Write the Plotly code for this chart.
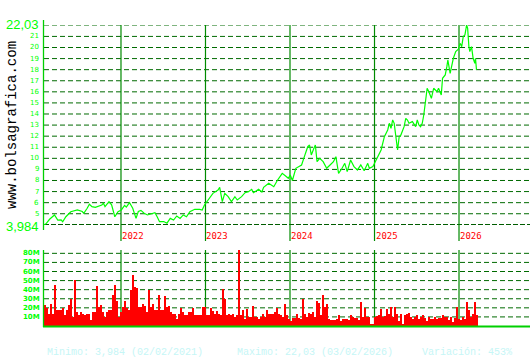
import plotly.graph_objects as go

# ---------------- data ----------------
price_years = [
    2021.090, 2021.117, 2021.155, 2021.213, 2021.252, 2021.291, 2021.310, 2021.348, 2021.406, 2021.484,
    2021.542, 2021.560, 2021.600, 2021.626, 2021.657, 2021.696, 2021.773, 2021.792, 2021.811, 2021.858,
    2021.889, 2021.927, 2021.965, 2022.004, 2022.043, 2022.063, 2022.101, 2022.139, 2022.178, 2022.205,
    2022.236, 2022.274, 2022.313, 2022.370, 2022.402, 2022.428, 2022.456, 2022.506, 2022.544, 2022.583,
    2022.622, 2022.660, 2022.699, 2022.737, 2022.775, 2022.815, 2022.873, 2022.931, 2022.961, 2022.988,
    2023.028, 2023.088, 2023.148, 2023.168, 2023.199, 2023.228, 2023.268, 2023.307, 2023.348, 2023.376,
    2023.427, 2023.468, 2023.508, 2023.547, 2023.568, 2023.628, 2023.667, 2023.688, 2023.748, 2023.808,
    2023.848, 2023.908, 2023.948, 2023.980, 2024.003, 2024.028, 2024.069, 2024.109, 2024.137, 2024.170,
    2024.210, 2024.231, 2024.252, 2024.283, 2024.300, 2024.320, 2024.352, 2024.392, 2024.413, 2024.434,
    2024.474, 2024.514, 2024.543, 2024.575, 2024.616, 2024.648, 2024.677, 2024.717, 2024.757, 2024.798,
    2024.838, 2024.878, 2024.920, 2024.939, 2024.981, 2025.012, 2025.040, 2025.078, 2025.117, 2025.156,
    2025.175, 2025.195, 2025.215, 2025.233, 2025.253, 2025.273, 2025.292, 2025.312, 2025.350, 2025.370,
    2025.390, 2025.408, 2025.448, 2025.487, 2025.506, 2025.525, 2025.545, 2025.565, 2025.583, 2025.603,
    2025.623, 2025.642, 2025.673, 2025.700, 2025.740, 2025.758, 2025.790, 2025.805, 2025.837, 2025.856,
    2025.868, 2025.895, 2025.915, 2025.933, 2025.961, 2025.992, 2026.012, 2026.032, 2026.050, 2026.070,
    2026.090, 2026.102, 2026.117, 2026.128, 2026.148, 2026.160, 2026.167, 2026.187, 2026.195, 2026.207,
]
price_values = [
    3.99, 4.13, 4.50, 4.89, 4.43, 4.45, 4.28, 4.73, 5.18, 5.34,
    5.20, 5.04, 5.49, 5.85, 5.64, 5.58, 5.79, 5.94, 5.65, 6.09,
    5.80, 4.73, 5.18, 5.34, 5.75, 5.60, 6.00, 5.50, 4.58, 5.20,
    5.30, 5.04, 4.89, 5.04, 5.10, 4.73, 4.28, 4.30, 4.15, 4.58,
    4.43, 4.80, 4.58, 4.89, 4.73, 5.18, 5.40, 5.40, 5.34, 5.79,
    6.18, 6.84, 7.14, 7.38, 6.09, 6.84, 6.54, 6.09, 6.54, 6.24,
    6.54, 6.90, 6.99, 7.20, 6.90, 7.20, 6.96, 7.38, 7.75, 7.44,
    7.98, 8.65, 8.41, 8.20, 8.50, 8.00, 9.10, 9.25, 9.40, 10.15,
    11.05, 11.20, 10.30, 10.90, 11.20, 9.70, 10.00, 9.70, 9.40, 9.10,
    9.40, 9.70, 10.15, 8.65, 9.10, 9.55, 8.80, 9.85, 9.25, 8.95,
    9.40, 8.88, 9.55, 9.10, 9.25, 9.70, 10.15, 10.75, 11.95, 12.56,
    13.16, 12.71, 13.46, 13.16, 11.95, 10.75, 11.95, 12.10, 12.86, 13.61,
    13.46, 13.16, 13.31, 12.86, 13.46, 13.01, 12.86, 13.16, 13.91, 15.27,
    16.32, 16.02, 15.42, 16.32, 16.02, 16.32, 15.72, 17.22, 17.52, 18.27,
    18.87, 17.67, 18.58, 19.03, 19.63, 19.84, 20.38, 20.08, 20.98, 21.13,
    22.03, 21.74, 20.08, 19.63, 20.08, 19.48, 19.03, 18.58, 19.03, 17.97,
]

# volume, millions, one value per regular sampling step
vol_start_year = 2021.100
vol_step_years = 0.02367
volume_m = [
    24, 20, 14, 25, 14, 46, 18, 18, 18, 20, 12, 18, 23, 30, 10, 51, 16, 12, 16, 14,
    12, 14, 14, 7, 16, 16, 44, 21, 23, 16, 10, 16, 18, 18, 34, 45, 28, 10, 16, 21,
    28, 20, 18, 40, 57, 43, 42, 21, 21, 25, 22, 16, 40, 21, 25, 18, 18, 34, 18, 18,
    33, 21, 22, 16, 14, 14, 8, 14, 20, 16, 12, 12, 16, 16, 20, 12, 12, 12, 12, 21,
    21, 12, 12, 20, 17, 14, 17, 14, 12, 41, 30, 12, 14, 12, 14, 10, 12, 84, 12, 18,
    8, 19, 10, 10, 22, 10, 10, 8, 10, 13, 10, 18, 14, 13, 13, 16, 20, 13, 12, 10,
    25, 12, 8, 6, 9, 9, 14, 9, 8, 30, 14, 10, 15, 13, 16, 10, 28, 26, 12, 34,
    21, 25, 8, 7, 7, 7, 8, 12, 6, 8, 8, 8, 7, 12, 10, 9, 9, 7, 27, 10,
    20, 10, 10, 3, 3, 10, 11, 12, 19, 10, 11, 19, 14, 21, 10, 21, 14, 6, 14, 3,
    12, 14, 15, 10, 8, 10, 12, 8, 10, 12, 9, 6, 10, 8, 8, 10, 8, 9, 9, 12,
    10, 10, 7, 10, 5, 9, 21, 8, 7, 10, 8, 27, 18, 10, 14, 27, 12,
]
vol_years = [vol_start_year + i * vol_step_years for i in range(len(volume_m))]

year_ticks = [2022, 2023, 2024, 2025, 2026]
year_labels = ["2022", "2023", "2024", "2025", "2026"]

price_ticks = [3.984, 5, 6, 7, 8, 9, 10, 11, 12, 13, 14, 15, 16, 17, 18, 19, 20, 21, 22.03]
price_tick_labels = ["3,984", "5", "6", "7", "8", "9", "10", "11", "12", "13", "14",
                     "15", "16", "17", "18", "19", "20", "21", "22,03"]

vol_ticks = [10, 20, 30, 40, 50, 60, 70, 80]
vol_tick_labels = ["10M", "20M", "30M", "40M", "50M", "60M", "70M", "80M"]

footer_texts = ["Minimo: 3,984 (02/02/2021)", "Maximo: 22,03 (03/02/2026)", "Variación: 453%"]
watermark = "www.bolsagrafica.com"

# ---------------- layout helpers ----------------
W, H = 530, 360
def px(x):
    return x / W
def py(y):
    return 1 - y / H

X_RANGE = [2021.089, 2026.840]
GRID = "#006a00"
VLINE = "#008a00"
AXIS = "#00d000"
BRIGHT = "#00ff00"

fig = go.Figure()

fig.add_trace(go.Scatter(
    x=price_years, y=price_values, mode="lines",
    line=dict(color=BRIGHT, width=1.2), xaxis="x", yaxis="y",
    hoverinfo="skip", showlegend=False,
))
fig.add_trace(go.Bar(
    x=vol_years, y=volume_m, width=vol_step_years,
    marker=dict(color="#ff0000", line=dict(width=0)),
    xaxis="x2", yaxis="y2", hoverinfo="skip", showlegend=False,
))

shapes = []
annotations = []

# horizontal dashed grid lines, price panel
for v in price_ticks:
    bottom = v == price_ticks[0]
    shapes.append(dict(
        type="line", xref="paper", yref="y", x0=px(44), x1=1, y0=v, y1=v,
        line=dict(color="#005c00" if bottom else GRID, width=2.2 if bottom else 1,
                  dash="5px,2px" if bottom else "5px,3px"),
        layer="below",
    ))
# horizontal dashed grid lines, volume panel
for v in vol_ticks:
    shapes.append(dict(
        type="line", xref="paper", yref="y2", x0=px(44), x1=1, y0=v, y1=v,
        line=dict(color=GRID, width=1, dash="5px,3px"), layer="below",
    ))
# vertical year lines
for yr in year_ticks:
    shapes.append(dict(type="line", xref="x", yref="paper", x0=yr, x1=yr,
                       y0=py(241), y1=py(25), line=dict(color=VLINE, width=1.2),
                       layer="below"))
    shapes.append(dict(type="line", xref="x2", yref="paper", x0=yr, x1=yr,
                       y0=py(326), y1=py(250), line=dict(color=VLINE, width=1.2),
                       layer="below"))
# axis lines
shapes.append(dict(type="line", xref="paper", yref="paper", x0=px(43.5), x1=px(43.5),
                   y0=py(230), y1=py(20), line=dict(color=AXIS, width=1.3)))
shapes.append(dict(type="line", xref="paper", yref="paper", x0=px(43.5), x1=px(43.5),
                   y0=py(327), y1=py(250), line=dict(color=AXIS, width=1.3)))
shapes.append(dict(type="line", xref="paper", yref="paper", x0=px(43), x1=1,
                   y0=py(326.5), y1=py(326.5), line=dict(color=AXIS, width=2)))

# price tick labels
for v, t in zip(price_ticks, price_tick_labels):
    big = v in (price_ticks[0], price_ticks[-1])
    annotations.append(dict(
        xref="paper", yref="y", x=px(40.5), y=v, text=t, showarrow=False,
        xanchor="right", yanchor="middle",
        font=dict(family="Liberation Sans" if big else "DejaVu Sans",
                  size=13 if big else 7, color=BRIGHT),
        yshift=-1 if v == price_ticks[0] else 0,
    ))
# volume tick labels
for v, t in zip(vol_ticks, vol_tick_labels):
    annotations.append(dict(
        xref="paper", yref="y2", x=px(42), y=v, text="<b>%s</b>" % t, showarrow=False,
        xanchor="right", yanchor="middle",
        font=dict(family="DejaVu Sans", size=7, color=BRIGHT),
    ))
# year labels
for yr, t in zip(year_ticks, year_labels):
    annotations.append(dict(
        xref="x", yref="paper", x=yr, y=py(236), text=t, showarrow=False,
        xanchor="left", yanchor="middle", xshift=-1,
        font=dict(family="DejaVu Sans Mono", size=9, color="#ff0000"),
    ))
# watermark
annotations.append(dict(
    xref="paper", yref="paper", x=px(12), y=py(125), text=watermark, showarrow=False,
    textangle=-90, xanchor="center", yanchor="middle",
    font=dict(family="Liberation Mono", size=14, color="#000000"),
))
# footer
for xpix, t in zip([45, 235, 420], footer_texts):
    annotations.append(dict(
        xref="paper", yref="paper", x=px(xpix), y=py(352), text=t, showarrow=False,
        xanchor="left", yanchor="middle",
        font=dict(family="Liberation Mono", size=10, color="#c6f6f6"),
    ))

axis_common = dict(showgrid=False, zeroline=False, showline=False, showticklabels=False,
                   ticks="", fixedrange=True)

fig.update_layout(
    width=W, height=H, margin=dict(l=0, r=0, t=0, b=0),
    paper_bgcolor="white", plot_bgcolor="white",
    bargap=0, showlegend=False,
    xaxis=dict(domain=[px(44), 1], range=X_RANGE, anchor="y", **axis_common),
    yaxis=dict(domain=[py(225), py(25)], range=[price_ticks[0], price_ticks[-1]],
               anchor="x", **axis_common),
    xaxis2=dict(domain=[px(44), 1], range=X_RANGE, anchor="y2", **axis_common),
    yaxis2=dict(domain=[py(326), py(249.7)], range=[0, 84], anchor="x2", **axis_common),
    shapes=shapes, annotations=annotations,
)

fig.write_html("out.html")
